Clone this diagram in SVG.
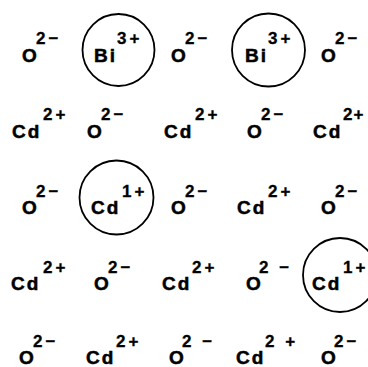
<svg xmlns="http://www.w3.org/2000/svg" width="368" height="367" viewBox="0 0 368 367">
<style>
.m{font-family:"Liberation Sans",Arial,sans-serif;font-weight:bold;font-size:19px;fill:#000;stroke:#000;stroke-width:0.5;letter-spacing:2px}
.s{font-family:"Liberation Sans",Arial,sans-serif;font-weight:bold;font-size:17px;fill:#000;stroke:#000;stroke-width:0.3;letter-spacing:3px}
.c{fill:none;stroke:#000;stroke-width:1.8}
</style>
<rect width="368" height="367" fill="#fff"/>
<g id="r1">
<g id="o11"><text class="m" x="22" y="62">O</text><text class="s" x="36" y="44">2−</text></g>
<g id="bi1"><circle class="c" cx="118.5" cy="50" r="36"/><text class="m" x="94" y="62">Bi</text><text class="s" x="117" y="44">3+</text></g>
<g id="o13"><text class="m" x="171" y="62">O</text><text class="s" x="185" y="44">2−</text></g>
<g id="bi2"><circle class="c" cx="268.5" cy="50" r="36.5"/><text class="m" x="245" y="62">Bi</text><text class="s" x="268" y="44">3+</text></g>
<g id="o15"><text class="m" x="321" y="62">O</text><text class="s" x="335" y="44">2−</text></g>
</g>
<g id="r2">
<g id="cd21"><text class="m" x="12" y="138">Cd</text><text class="s" x="43" y="120">2+</text></g>
<g id="o22"><text class="m" x="87" y="138">O</text><text class="s" x="101" y="120">2−</text></g>
<g id="cd23"><text class="m" x="164" y="138">Cd</text><text class="s" x="195" y="120">2+</text></g>
<g id="o24"><text class="m" x="247" y="138">O</text><text class="s" x="261" y="120">2−</text></g>
<g id="cd25"><text class="m" x="313" y="138">Cd</text><text class="s" x="343" y="120" style="letter-spacing:1px">2+</text></g>
</g>
<g id="r3">
<g id="o31"><text class="m" x="22" y="214">O</text><text class="s" x="36" y="197">2−</text></g>
<g id="cd32"><circle class="c" cx="116.5" cy="197.5" r="37"/><text class="m" x="91" y="214">Cd</text><text class="s" x="122" y="197">1+</text></g>
<g id="o33"><text class="m" x="171" y="214">O</text><text class="s" x="185" y="197">2−</text></g>
<g id="cd34"><text class="m" x="237" y="214">Cd</text><text class="s" x="268" y="197">2+</text></g>
<g id="o35"><text class="m" x="321" y="214">O</text><text class="s" x="335" y="197">2−</text></g>
</g>
<g id="r4">
<g id="cd41"><text class="m" x="11" y="290">Cd</text><text class="s" x="43" y="273">2+</text></g>
<g id="o42"><text class="m" x="94" y="290">O</text><text class="s" x="108" y="273">2−</text></g>
<g id="cd43"><text class="m" x="162" y="290">Cd</text><text class="s" x="192" y="273">2+</text></g>
<g id="o44"><text class="m" x="246" y="290">O</text><text class="s" x="259" y="273">2 −</text></g>
<g id="cd45"><circle class="c" cx="340" cy="275" r="37"/><text class="m" x="312" y="290">Cd</text><text class="s" x="343" y="273">1+</text></g>
</g>
<g id="r5">
<g id="o51"><text class="m" x="19" y="364">O</text><text class="s" x="33" y="347">2−</text></g>
<g id="cd52"><text class="m" x="86" y="364">Cd</text><text class="s" x="116" y="347">2+</text></g>
<g id="o53"><text class="m" x="169" y="364">O</text><text class="s" x="182" y="347">2 −</text></g>
<g id="cd54"><text class="m" x="236" y="364">Cd</text><text class="s" x="265" y="347">2 +</text></g>
<g id="o55"><text class="m" x="321" y="364">O</text><text class="s" x="334" y="347">2−</text></g>
</g>
</svg>
